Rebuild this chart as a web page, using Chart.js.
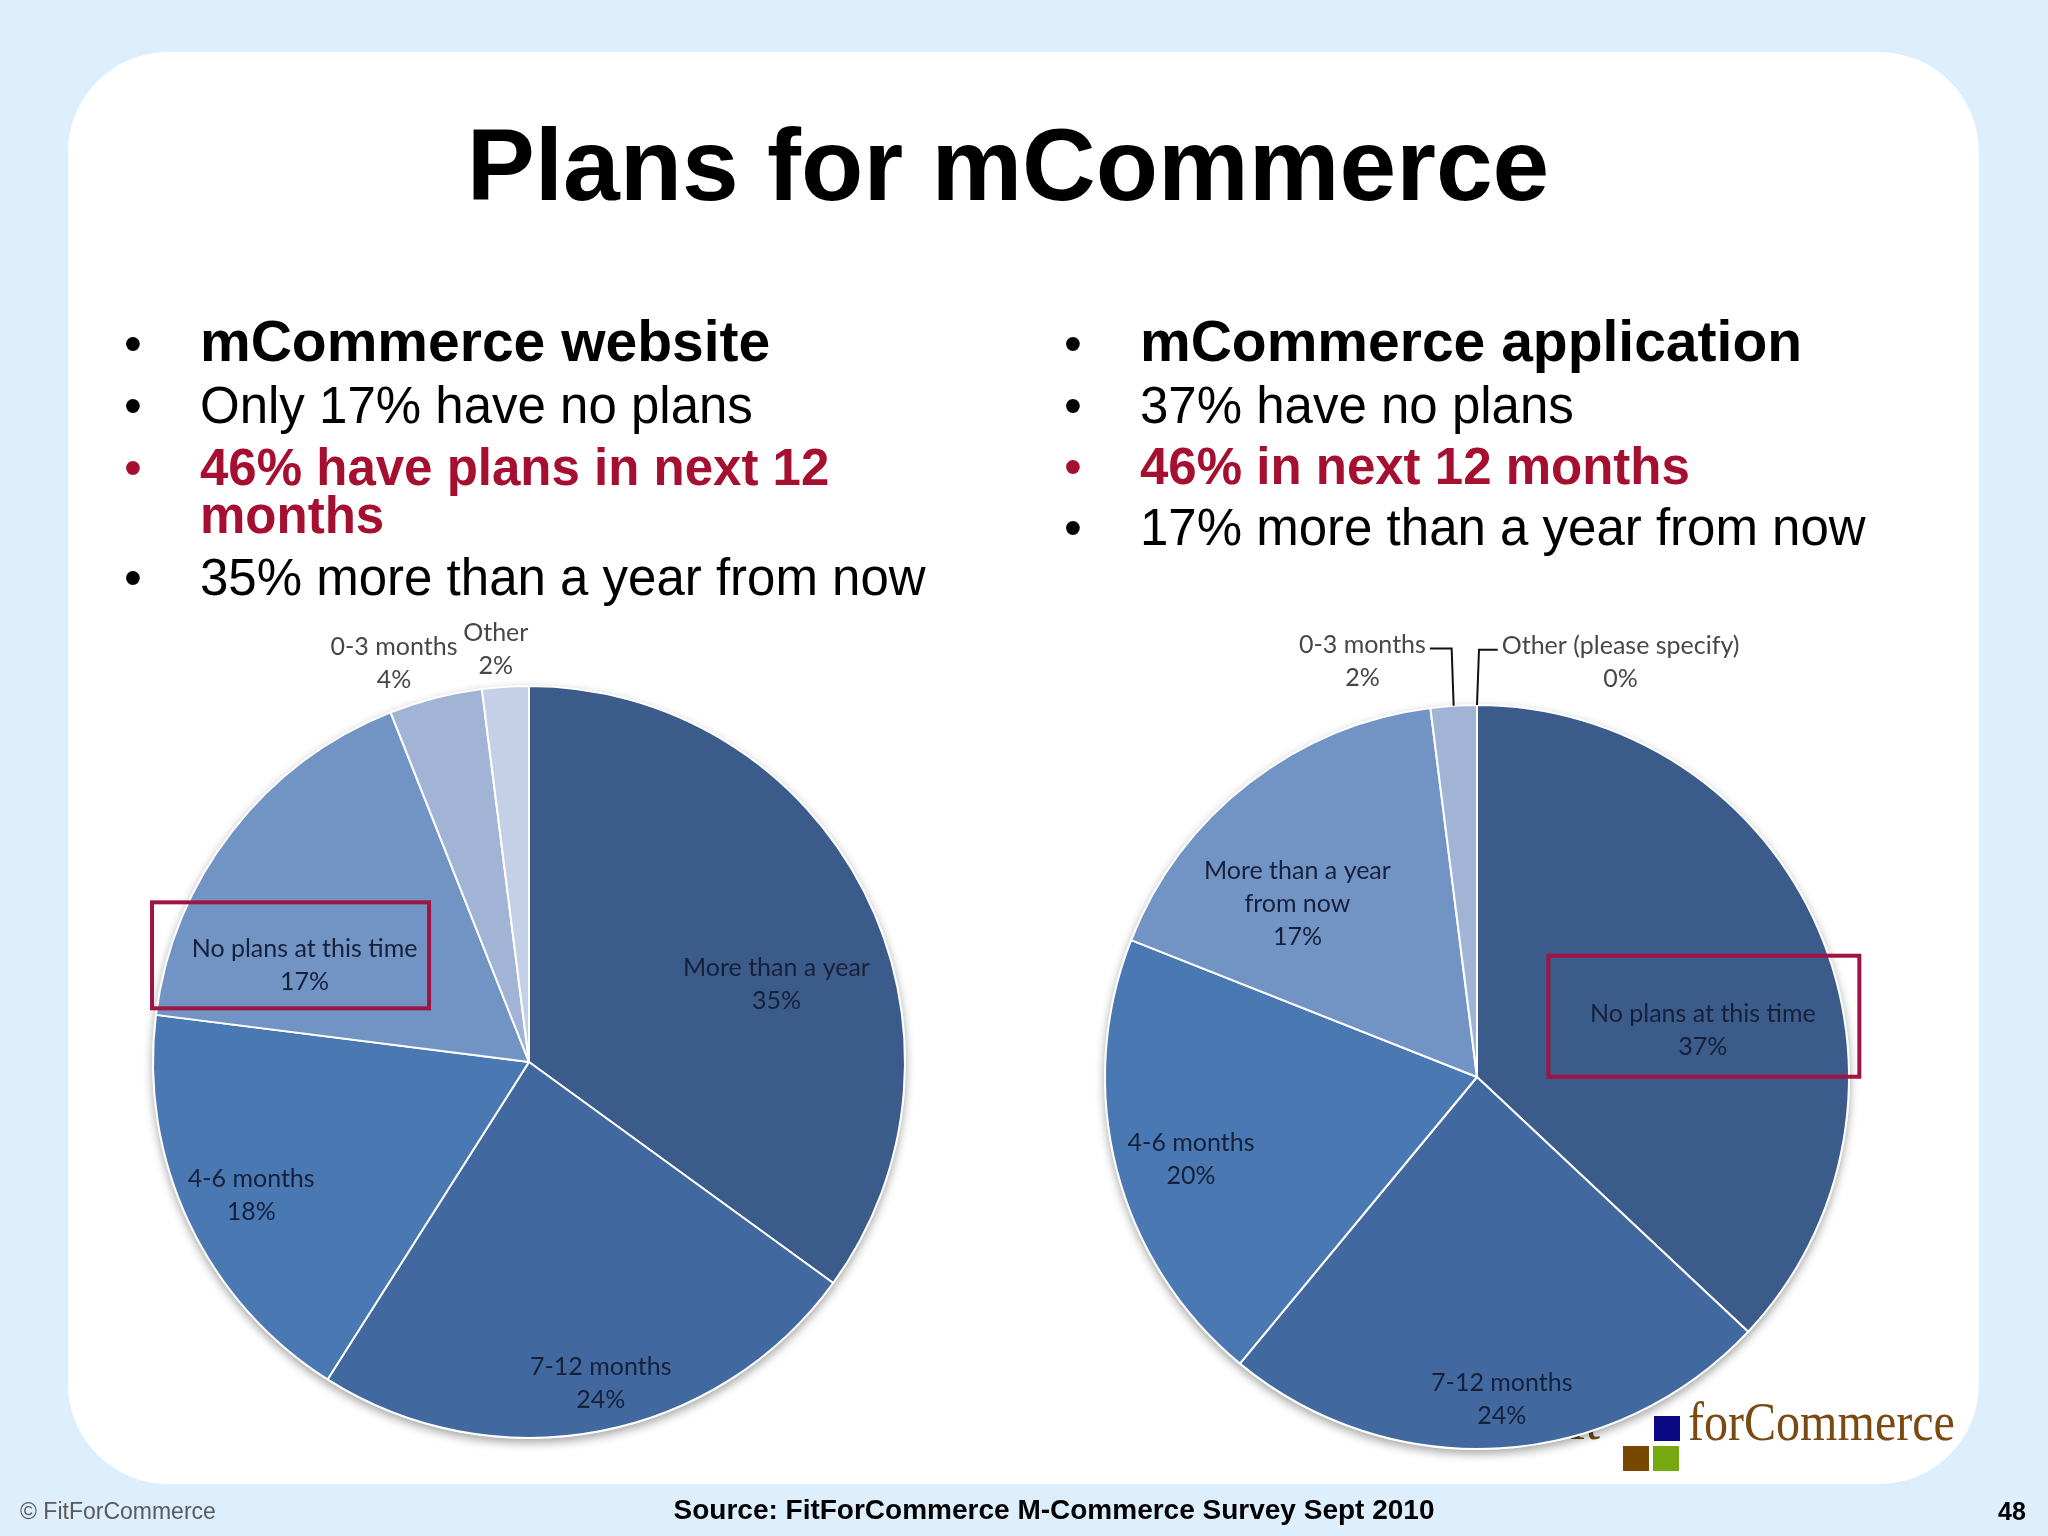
<!DOCTYPE html>
<html>
<head>
<meta charset="utf-8">
<title>Plans for mCommerce</title>
<script src="https://cdn.jsdelivr.net/npm/chart.js@4.4.1/dist/chart.umd.min.js"></script>
<style>
  html, body { margin: 0; padding: 0; }
  body {
    width: 2048px; height: 1536px; overflow: hidden; position: relative;
    background: #ddeefc; font-family: "Liberation Sans", Arial, sans-serif;
  }
  .panel {
    position: absolute; left: 68px; top: 52px; width: 1911px; height: 1432px;
    background: #fff; border-radius: 100px;
  }
  .t { position: absolute; white-space: nowrap; line-height: 1; color: #000; }
  .b { font-weight: bold; }
  .red { color: #a50f30; }
  .logo-sq { position: absolute; }
  canvas { position: absolute; }
</style>
</head>
<body>
<div class="panel"></div>

<div class="t b" style="left:0;width:2016px;text-align:center;font-size:102px;top:114px;">Plans for mCommerce</div>

<!-- left bullets -->
<div class="t" style="left:124px;font-size:51px;top:318px;">•</div>
<div class="t b" style="left:200px;font-size:57px;top:313px;">mCommerce website</div>
<div class="t" style="left:124px;font-size:51px;top:380px;">•</div>
<div class="t" style="left:200px;font-size:51px;top:380px;">Only 17% have no plans</div>
<div class="t red" style="left:124px;font-size:51px;top:442px;">•</div>
<div class="t b red" style="left:200px;font-size:51px;top:442px;">46% have plans in next 12</div>
<div class="t b red" style="left:200px;font-size:51px;top:490px;">months</div>
<div class="t" style="left:124px;font-size:51px;top:552px;">•</div>
<div class="t" style="left:200px;font-size:51px;top:552px;">35% more than a year from now</div>

<!-- right bullets -->
<div class="t" style="left:1064px;font-size:51px;top:318px;">•</div>
<div class="t b" style="left:1140px;font-size:57px;top:313px;">mCommerce application</div>
<div class="t" style="left:1064px;font-size:51px;top:380px;">•</div>
<div class="t" style="left:1140px;font-size:51px;top:380px;">37% have no plans</div>
<div class="t red" style="left:1064px;font-size:51px;top:441px;">•</div>
<div class="t b red" style="left:1140px;font-size:51px;top:441px;">46% in next 12 months</div>
<div class="t" style="left:1064px;font-size:51px;top:502px;">•</div>
<div class="t" style="left:1140px;font-size:51px;top:502px;">17% more than a year from now</div>

<!-- logo, sits behind the right pie -->
<div class="t" style="left:1540px;top:1394px;font-family:'Liberation Serif',serif;font-size:54px;color:#6b4a1a;">Fit</div>
<div class="logo-sq" style="left:1654px;top:1416px;width:26px;height:25px;background:#0b0a84;"></div>
<div class="logo-sq" style="left:1623px;top:1446px;width:26px;height:25px;background:#7a4700;"></div>
<div class="logo-sq" style="left:1653px;top:1446px;width:26px;height:25px;background:#78a80f;"></div>
<div class="t" style="left:1688px;top:1395px;font-family:'Liberation Serif',serif;font-size:54px;color:#7a4a12;transform:scaleX(0.89);transform-origin:left top;">forCommerce</div>

<canvas id="left" width="1000" height="1000" style="left:29px;top:562px;"></canvas>
<canvas id="right" width="1000" height="1000" style="left:977px;top:577px;"></canvas>

<!-- footer -->
<div class="t" style="left:20px;top:1500px;font-size:23px;color:#5a5a5a;">© FitForCommerce</div>
<div class="t b" style="left:0;width:2108px;text-align:center;top:1496px;font-size:28px;">Source: FitForCommerce M-Commerce Survey Sept 2010</div>
<div class="t b" style="left:1998px;top:1499px;font-size:25px;">48</div>

<script>
// data
const leftCategories = ['More than a year', '7-12 months', '4-6 months', 'No plans at this time', '0-3 months', 'Other'];
const leftValues = [35, 24, 18, 17, 4, 2];

const rightCategories = ['No plans at this time', '7-12 months', '4-6 months', 'More than a year\nfrom now', '0-3 months', 'Other (please specify)'];
const rightValues = [37, 24, 20, 17, 2, 0];

// colours by slice (darkest first)
const leftColors = ['#3b5b8b', '#41699f', '#4978b3', '#7194c4', '#a2b4d6', '#c4d0e5'];
const rightColors = ['#3b5b8b', '#41699f', '#4978b3', '#7194c4', '#a2b4d6', '#c4d0e5'];

// label placement: [angle offset from slice middle (deg), radius ratio]
const leftLabelPos = [[9.5, 0.69], [-1.8, 0.875], [-0.5, 0.82], [-14.5, 0.65], [-4.3, 1.12], [-1.0, 1.10]];
const rightLabelPos = [[11.7, 0.62], [-0.8, 0.87], [-1.7, 0.80], [-8.3, 0.67], [-11.8, 1.16], [19.1, 1.18]];


const pieLabels = {
    id: 'pieLabels',
    beforeDatasetsDraw(chart) {
        // soft shadow under the pie
        const arc = chart.getDatasetMeta(0).data[0];
        const ctx = chart.ctx;
        ctx.save();
        ctx.shadowColor = 'rgba(0,0,0,0.35)';
        ctx.shadowBlur = 10;
        ctx.shadowOffsetY = 4;
        ctx.fillStyle = '#e8e8e8';
        ctx.beginPath();
        ctx.arc(arc.x, arc.y, arc.outerRadius + 1, 0, Math.PI * 2);
        ctx.fill();
        ctx.restore();
    },
    afterDatasetsDraw(chart, args, opts) {
        const ctx = chart.ctx;
        const meta = chart.getDatasetMeta(0);
        const ds = chart.data.datasets[0];
        ctx.save();
        ctx.font = '25px Lato, "Open Sans", sans-serif';
        ctx.textAlign = 'center';
        ctx.textBaseline = 'middle';
        meta.data.forEach((arc, i) => {
            const [off, rr] = opts.pos[i];
            const mid = (arc.startAngle + arc.endAngle) / 2 + off * Math.PI / 180;
            const R = arc.outerRadius;
            const cx = arc.x + Math.cos(mid) * R * rr;
            const cy = arc.y + Math.sin(mid) * R * rr;
            const lines = chart.data.labels[i].split('\n').concat([ds.data[i] + '%']);
            const lh = 33;
            const y0 = cy - (lines.length - 1) * lh / 2;
            ctx.fillStyle = rr > 1 ? '#474747' : '#16203a';
            lines.forEach((t, k) => ctx.fillText(t, cx, y0 + k * lh));

            // leader lines for the thin outside slices
            if (opts.leaders && opts.leaders.includes(i)) {
                const edgeA = (arc.startAngle + arc.endAngle) / 2;
                const ex = arc.x + Math.cos(edgeA) * R;
                const ey = arc.y + Math.sin(edgeA) * R;
                const w = ctx.measureText(lines[0]).width;
                const side = cx < ex ? 1 : -1;
                const sx = cx + side * (w / 2 + 4);
                const ly = y0 + 4;
                ctx.strokeStyle = '#111';
                ctx.lineWidth = 2;
                ctx.beginPath();
                ctx.moveTo(sx, ly);
                ctx.lineTo(ex - side * 2, ly);
                ctx.lineTo(ex, ey);
                ctx.stroke();
            }
        });

        // red highlight box round the "No plans" label
        const h = opts.box;
        if (h) {
            const arc = meta.data[h.index];
            const [off, rr] = opts.pos[h.index];
            const mid = (arc.startAngle + arc.endAngle) / 2 + off * Math.PI / 180;
            const cx = arc.x + Math.cos(mid) * arc.outerRadius * rr + h.dx;
            const cy = arc.y + Math.sin(mid) * arc.outerRadius * rr + h.dy;
            ctx.strokeStyle = '#9e1442';
            ctx.lineWidth = 4;
            ctx.strokeRect(cx - h.w / 2, cy - h.h / 2, h.w, h.h);
        }
        ctx.restore();
    }
};


function makePie(id, labels, values, colors, pos, leaders, box, radius) {
    return new Chart(document.getElementById(id), {
        type: 'pie',
        data: {
            labels: labels,
            datasets: [{
                data: values,
                backgroundColor: colors,
                borderColor: '#ffffff',
                borderWidth: 2,
                radius: radius
            }]
        },
        options: {
            responsive: false,
            animation: false,
            devicePixelRatio: 1,
            events: [],
            layout: { padding: 0 },
            plugins: {
                legend: { display: false },
                tooltip: { enabled: false },
                pieLabels: { pos: pos, leaders: leaders, box: box }
            }
        },
        plugins: [pieLabels]
    });
}

makePie('left', leftCategories, leftValues, leftColors, leftLabelPos, [],
    { index: 3, w: 277, h: 106, dx: -14, dy: -10 }, 376);
makePie('right', rightCategories, rightValues, rightColors, rightLabelPos, [4, 5],
    { index: 0, w: 311, h: 121, dx: 1, dy: -14 }, 372);
</script>
</body>
</html>
